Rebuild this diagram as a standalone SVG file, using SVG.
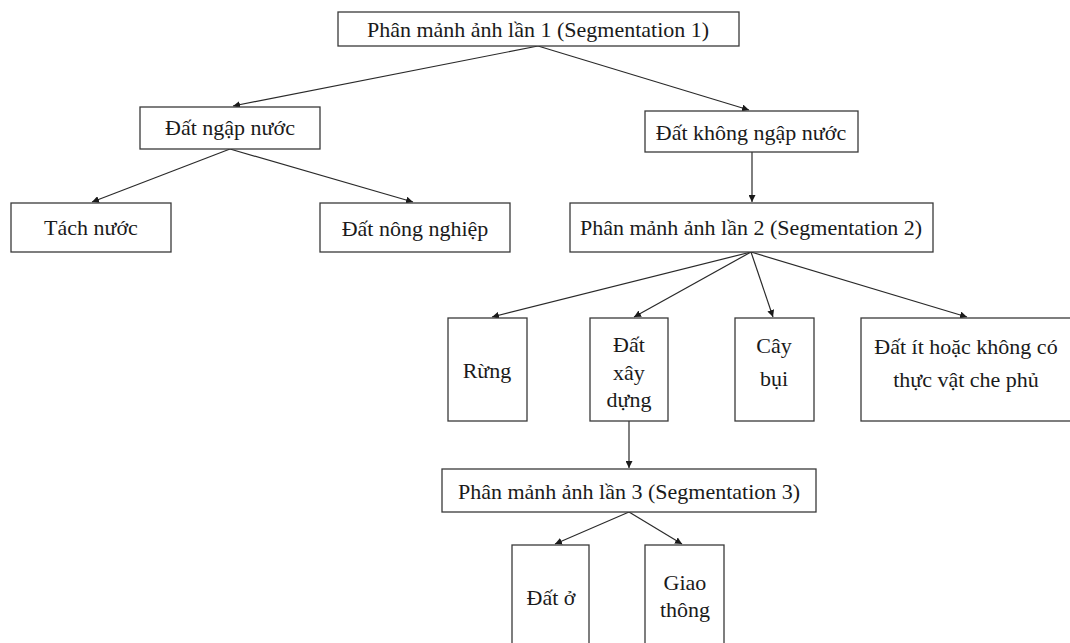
<svg xmlns="http://www.w3.org/2000/svg" width="1070" height="643" viewBox="0 0 1070 643">
  <style>
    .box { fill: #ffffff; stroke: #3a3a3a; stroke-width: 1.3; }
    .lbl { font-family: "Liberation Serif", "Times New Roman", serif; font-size: 22px; fill: #1a1a1a; text-anchor: middle; }
    .edge { fill: none; stroke: #2a2a2a; stroke-width: 1.2; marker-end: url(#arrow); }
  </style>
  <defs>
    <marker id="arrow" viewBox="0 0 10 10" refX="10" refY="5" markerWidth="7" markerHeight="7" markerUnits="userSpaceOnUse" orient="auto">
      <path d="M0,0 L10,5 L0,10 z" fill="#1a1a1a"/>
    </marker>
  </defs>
  <rect width="1070" height="643" fill="#ffffff"/>

  <g id="connectors">
    <line class="edge" x1="538" y1="46" x2="233" y2="106"/>
    <line class="edge" x1="538" y1="46" x2="749" y2="110"/>
    <line class="edge" x1="230" y1="149" x2="92" y2="202"/>
    <line class="edge" x1="230" y1="149" x2="413" y2="202"/>
    <line class="edge" x1="752" y1="152" x2="752" y2="202"/>
    <line class="edge" x1="751" y1="252" x2="492" y2="317"/>
    <line class="edge" x1="751" y1="252" x2="634" y2="317"/>
    <line class="edge" x1="751" y1="252" x2="773" y2="317"/>
    <line class="edge" x1="751" y1="252" x2="967" y2="317"/>
    <line class="edge" x1="629" y1="421" x2="629" y2="468"/>
    <line class="edge" x1="629" y1="512" x2="555" y2="544"/>
    <line class="edge" x1="629" y1="512" x2="682" y2="544"/>
  </g>

  <g id="seg1">
    <rect class="box" x="338" y="12" width="401" height="34"/>
    <text class="lbl" x="538" y="37">Phân mảnh ảnh lần 1 (Segmentation 1)</text>
  </g>
  <g id="dat-ngap-nuoc">
    <rect class="box" x="140" y="107" width="180" height="42"/>
    <text class="lbl" x="230" y="135">Đất ngập nước</text>
  </g>
  <g id="dat-khong-ngap-nuoc">
    <rect class="box" x="645" y="111" width="213" height="41"/>
    <text class="lbl" x="751" y="140">Đất không ngập nước</text>
  </g>
  <g id="tach-nuoc">
    <rect class="box" x="11" y="203" width="160" height="49"/>
    <text class="lbl" x="91" y="235">Tách nước</text>
  </g>
  <g id="dat-nong-nghiep">
    <rect class="box" x="320" y="203" width="190" height="49"/>
    <text class="lbl" x="415" y="236">Đất nông nghiệp</text>
  </g>
  <g id="seg2">
    <rect class="box" x="570" y="203" width="363" height="49"/>
    <text class="lbl" x="751" y="235">Phân mảnh ảnh lần 2 (Segmentation 2)</text>
  </g>
  <g id="rung">
    <rect class="box" x="448" y="318" width="79" height="103"/>
    <text class="lbl" x="487" y="378">Rừng</text>
  </g>
  <g id="dat-xay-dung">
    <rect class="box" x="590" y="318" width="78" height="103"/>
    <text class="lbl" x="629" y="352">Đất</text>
    <text class="lbl" x="629" y="380">xây</text>
    <text class="lbl" x="629" y="407">dựng</text>
  </g>
  <g id="cay-bui">
    <rect class="box" x="735" y="318" width="79" height="103"/>
    <text class="lbl" x="774" y="353">Cây</text>
    <text class="lbl" x="774" y="386">bụi</text>
  </g>
  <g id="dat-it-thuc-vat">
    <rect class="box" x="861" y="318" width="212" height="103"/>
    <text class="lbl" x="966" y="354">Đất ít hoặc không có</text>
    <text class="lbl" x="966" y="387">thực vật che phủ</text>
  </g>
  <g id="seg3">
    <rect class="box" x="442" y="469" width="374" height="43"/>
    <text class="lbl" x="629" y="499">Phân mảnh ảnh lần 3 (Segmentation 3)</text>
  </g>
  <g id="dat-o">
    <rect class="box" x="512" y="545" width="77" height="110"/>
    <text class="lbl" x="551" y="605">Đất ở</text>
  </g>
  <g id="giao-thong">
    <rect class="box" x="645" y="545" width="79" height="110"/>
    <text class="lbl" x="685" y="590">Giao</text>
    <text class="lbl" x="685" y="617">thông</text>
  </g>
</svg>
